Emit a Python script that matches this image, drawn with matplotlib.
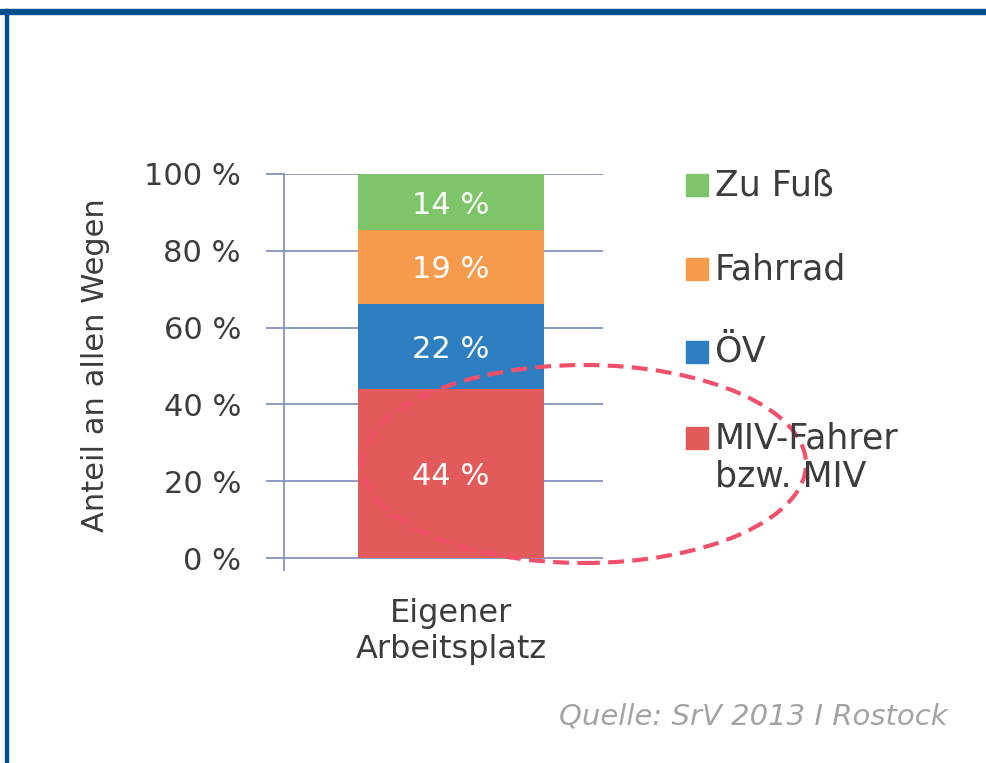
import matplotlib.pyplot as plt
from matplotlib.patches import Rectangle, Ellipse

plt.rcParams['font.family'] = ['DejaVu Sans']

# data
modes = ['MIV-Fahrer\nbzw. MIV', 'ÖV', 'Fahrrad', 'Zu Fuß']
shares = [44.1, 22.0, 19.4, 14.4]
colors = ['#E35A5B', '#2E7EC2', '#F69A4B', '#7EC468']
category = ['Eigener\nArbeitsplatz']
yticks = [0, 20, 40, 60, 80, 100]

W, H = 987, 763
fig = plt.figure(figsize=(W / 100, H / 100), dpi=100)
fig.patch.set_facecolor('white')

# axes placed in pixel coordinates
left, right, top, bottom = 284, 603, 174, 570
ax = fig.add_axes([left / W, 1 - bottom / H, (right - left) / W, (bottom - top) / H])

grid_col = '#8793BE'
txt_col = '#3C3C3C'
base = 0
for val, col in zip(shares, colors):
    ax.bar(0, val, bottom=base, width=0.6, color=col, zorder=3)
    ax.text(0, base + val / 2, f'{val:.0f} %', ha='center', va='center_baseline',
            color='white', fontsize=22, zorder=4)
    base += val

ax.set_xlim(-0.539, 0.49)
ax.set_ylim(-3.1, 100)
ax.set_yticks(yticks)
ax.set_yticklabels([f'{t} %' for t in yticks])
ax.yaxis.grid(True, color=grid_col, lw=1.3, zorder=1)
ax.tick_params(axis='y', length=13, width=1.3, color=grid_col, labelsize=22,
               labelcolor=txt_col, pad=18)
ax.set_xticks([0])
ax.set_xticklabels(category)
ax.tick_params(axis='x', length=0, labelsize=23, labelcolor=txt_col, pad=20)
for s in ['top', 'right', 'bottom']:
    ax.spines[s].set_visible(False)
ax.spines['left'].set_color(grid_col)
ax.spines['left'].set_linewidth(1.3)
ax.set_ylabel('Anteil an allen Wegen', fontsize=22, color=txt_col)
ax.yaxis.set_label_coords(-0.545, 0.518)

# legend (top to bottom = reverse of stack)
leg_y = [185, 269, 352, 438]
for (lab, col), y in zip(reversed(list(zip(modes, colors))), leg_y):
    fig.patches.append(Rectangle((686 / W, 1 - (y + 11) / H), 22 / W, 22 / H,
                                 transform=fig.transFigure, color=col))
    fig.text(715 / W, 1 - (y - 17) / H, lab, fontsize=25, color=txt_col,
             va='top', ha='left', linespacing=1.15)

# dashed highlight ellipse
fig.patches.append(Ellipse((584 / W, 1 - 464 / H), 444 / W, 198 / H,
                           transform=fig.transFigure, fill=False,
                           edgecolor='#F2506A', lw=3, linestyle=(0, (3.8, 2))))

# frame
fig.patches.append(Rectangle((0, 1 - 14 / H), 1, 5 / H, transform=fig.transFigure,
                             color='#00508F'))
fig.patches.append(Rectangle((5 / W, 0), 3.5 / W, 1 - 9 / H, transform=fig.transFigure,
                             color='#00508F'))

fig.text(948 / W, 1 - 717 / H, 'Quelle: SrV 2013 I Rostock', ha='right', va='center',
         fontsize=21, style='italic', color='#A3A3A3')

fig.savefig('out.png', dpi=100)
